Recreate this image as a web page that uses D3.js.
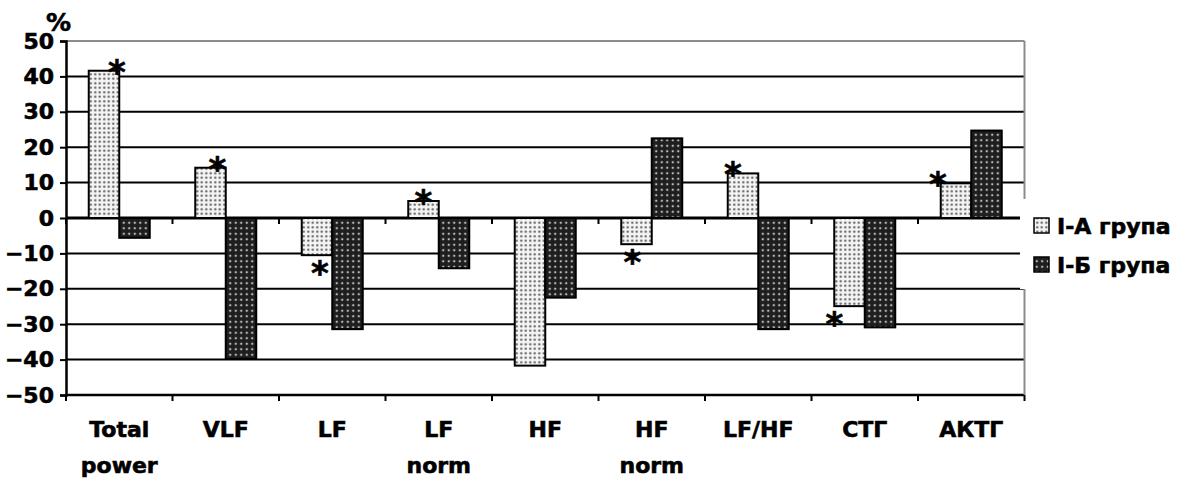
<!DOCTYPE html>
<html>
<head>
<meta charset="utf-8">
<script src="https://cdn.jsdelivr.net/npm/d3@7/dist/d3.min.js"></script>
<style>
  body { margin: 0; background: #fff; }
  text { font-family: "DejaVu Sans", Verdana, sans-serif; font-weight: bold; fill: #000; stroke: #000; stroke-width: 0.6px; }
</style>
</head>
<body>
<div id="chart"></div>
<script>
const categories = ["Total power", "VLF", "LF", "LF norm", "HF", "HF norm", "LF/HF", "СТГ", "АКТГ"];
const seriesNames = ["I-А група", "I-Б група"];
const groupA = [41.6, 14.2, -10.5, 4.8, -41.7, -7.4, 12.6, -24.9, 9.8];
const groupB = [-5.6, -39.8, -31.4, -14.2, -22.5, 22.5, -31.4, -30.9, 24.7];
const starA = [true, true, true, true, false, true, true, true, true];
const yTicks = [50, 40, 30, 20, 10, 0, -10, -20, -30, -40, -50];

const W = 1194, H = 484;
const margin = { top: 41, right: 170, bottom: 89, left: 66 };

const svg = d3.select("#chart").append("svg")
    .attr("width", W)
    .attr("height", H);

// fill patterns
const defs = svg.append("defs");
const pA = defs.append("pattern").attr("id", "patA")
    .attr("patternUnits", "userSpaceOnUse").attr("width", 4.5).attr("height", 4.5);
pA.append("rect").attr("width", 4.5).attr("height", 4.5).attr("fill", "#f4f4f4");
pA.append("circle").attr("cx", 2.25).attr("cy", 2.25).attr("r", 1.15).attr("fill", "#5a5a5a");

const pB = defs.append("pattern").attr("id", "patB")
    .attr("patternUnits", "userSpaceOnUse").attr("width", 5.5).attr("height", 5.5);
pB.append("rect").attr("width", 5.5).attr("height", 5.5).attr("fill", "#1e1e1e");
pB.append("circle").attr("cx", 2.75).attr("cy", 2.75).attr("r", 1.2).attr("fill", "#b8b8b8");

const fills = ["url(#patA)", "url(#patB)"];

const x0 = d3.scaleBand()
    .domain(categories)
    .range([margin.left, W - margin.right + 0.5]);

const x1 = d3.scaleBand()
    .domain(seriesNames)
    .range([0, x0.bandwidth()])
    .paddingOuter(0.746);

const y = d3.scaleLinear()
    .domain([-50, 50])
    .range([H - margin.bottom, margin.top]);

const right = x0.range()[1];

// gridlines
svg.append("g")
    .selectAll("line")
    .data(yTicks)
    .join("line")
    .attr("x1", margin.left)
    .attr("x2", right)
    .attr("y1", d => y(d))
    .attr("y2", d => y(d))
    .attr("stroke", d => d === 50 ? "#8c8c8c" : "#000")
    .attr("stroke-width", d => d === 0 ? 3 : (d === -50 ? 2.5 : 2));

// right border
svg.append("line")
    .attr("x1", right).attr("x2", right)
    .attr("y1", y(50)).attr("y2", y(-50))
    .attr("stroke", "#8c8c8c").attr("stroke-width", 2);

// y axis
const yAxis = d3.axisLeft(y)
    .tickValues(yTicks)
    .tickSize(6)
    .tickPadding(6);
const gy = svg.append("g")
    .attr("transform", `translate(${margin.left},0)`)
    .call(yAxis);
gy.select(".domain").attr("stroke", "#000").attr("stroke-width", 2.5);
gy.selectAll(".tick line").attr("stroke", "#000").attr("stroke-width", 2);
gy.selectAll(".tick text")
    .attr("font-size", 22)
    .attr("fill", "#000")
    .style("font-family", "DejaVu Sans")
    .style("font-weight", "bold");

// category tick marks on zero line and bottom line
const boundaries = categories.map(c => x0(c)).concat([right]);
[0, -50].forEach(v => {
    svg.append("g")
        .selectAll("line")
        .data(boundaries)
        .join("line")
        .attr("x1", d => d).attr("x2", d => d)
        .attr("y1", y(v)).attr("y2", y(v) + 6)
        .attr("stroke", "#000").attr("stroke-width", 2);
});

// bars
const groups = svg.append("g")
    .selectAll("g")
    .data(categories)
    .join("g")
    .attr("transform", d => `translate(${x0(d)},0)`);

groups.selectAll("rect")
    .data((c, i) => [groupA[i], groupB[i]].map((v, k) => ({ key: seriesNames[k], v: v, k: k })))
    .join("rect")
    .attr("x", d => x1(d.key))
    .attr("width", x1.bandwidth())
    .attr("y", d => y(Math.max(0, d.v)))
    .attr("height", d => Math.abs(y(d.v) - y(0)))
    .attr("fill", d => fills[d.k])
    .attr("stroke", "#000")
    .attr("stroke-width", 2);

// significance stars (hand-placed in original, slight horizontal shifts)
const starShift = [13, 7, 3, 0, 0, -4, -10, -15, -18];
svg.append("g")
    .selectAll("text")
    .data(categories.map((c, i) => ({ c: c, i: i, v: groupA[i] })).filter(d => starA[d.i]))
    .join("text")
    .attr("x", d => x0(d.c) + x1(seriesNames[0]) + x1.bandwidth() / 2 + starShift[d.i])
    .attr("y", d => d.v >= 0 ? y(d.v) + 13 : y(d.v) + 30)
    .attr("text-anchor", "middle")
    .attr("font-size", 34)
    .text("*");

// category labels (two lines where needed)
const labels = svg.append("g")
    .selectAll("text")
    .data(categories)
    .join("text")
    .attr("x", d => x0(d) + x0.bandwidth() / 2)
    .attr("y", 437)
    .attr("text-anchor", "middle")
    .attr("font-size", 22);
labels.each(function(d) {
    const parts = d.split(" ");
    const t = d3.select(this);
    parts.forEach((p, i) => {
        t.append("tspan")
            .attr("x", x0(d) + x0.bandwidth() / 2)
            .attr("dy", i === 0 ? 0 : 36)
            .text(p);
    });
});

// y unit
svg.append("text")
    .attr("x", 46)
    .attr("y", 31)
    .attr("font-size", 25)
    .text("%");

// legend (white box sits over the plot edge)
const legend = svg.append("g");
legend.append("rect")
    .attr("x", 1020).attr("y", 199)
    .attr("width", 174).attr("height", 90)
    .attr("fill", "#fff");
const legY = [226, 265];
seriesNames.forEach((s, k) => {
    legend.append("rect")
        .attr("x", 1034).attr("y", legY[k] - 8)
        .attr("width", 15).attr("height", 15)
        .attr("fill", fills[k])
        .attr("stroke", "#000").attr("stroke-width", 1.5);
    legend.append("text")
        .attr("x", 1057).attr("y", legY[k] + 8)
        .attr("font-size", 22)
        .text(s);
});
</script>
</body>
</html>
